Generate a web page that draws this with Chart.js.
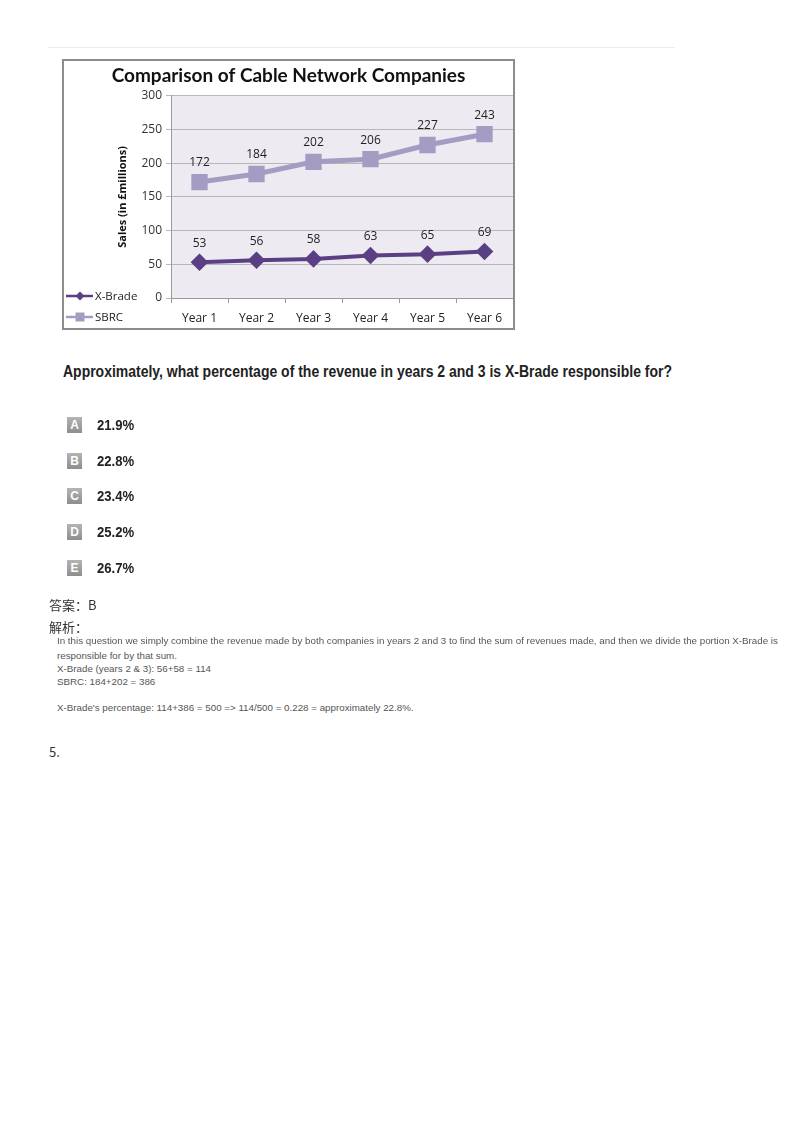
<!DOCTYPE html>
<html>
<head>
<meta charset="utf-8">
<script src="https://cdn.jsdelivr.net/npm/chart.js@4"></script>
<style>
  html,body{margin:0;padding:0;background:#fff;}
  body{width:800px;height:1132px;position:relative;overflow:hidden;}
  .abs{position:absolute;white-space:nowrap;}
  #topline{left:48px;top:47px;width:627px;height:1px;background:#ececec;}
  #frame{left:62px;top:59px;width:449px;height:267px;border:2px solid #8c8c8c;background:#fff;}
  #frame canvas{display:block;}
  .leg{font-family:"Open Sans",sans-serif;font-size:11.5px;color:#222;}
  .q{font-family:"Liberation Sans",Arial,sans-serif;font-weight:bold;color:#222;transform:scaleX(0.874);transform-origin:0 50%;}
  .box{width:15px;height:16px;background:linear-gradient(#b4b4b4,#8e8e8e);color:#fff;font-family:"Liberation Sans",Arial,sans-serif;font-weight:bold;font-size:12px;line-height:16px;text-align:center;}
  .cn{font-family:"Noto Sans CJK SC",sans-serif;font-size:13px;color:#333;}
  .ex{font-family:"Liberation Sans",Arial,sans-serif;font-size:9.77px;color:#555;line-height:13px;}
</style>
</head>
<body>
<div id="topline" class="abs"></div>
<div id="frame" class="abs"><canvas id="c" width="449" height="267"></canvas></div>

<div class="abs leg" style="left:66px;top:287px;width:80px;height:18px;">
  <svg width="28" height="18" style="position:absolute;left:0;top:0">
    <line x1="0" y1="9" x2="27" y2="9" stroke="#5b3f85" stroke-width="2.5"/>
    <polygon points="14,4.5 18.5,9 14,13.5 9.5,9" fill="#5b3f85"/>
  </svg>
  <span style="position:absolute;left:29px;top:0;line-height:18px;">X-Brade</span>
</div>
<div class="abs leg" style="left:66px;top:308px;width:80px;height:18px;">
  <svg width="28" height="18" style="position:absolute;left:0;top:0">
    <line x1="0" y1="9" x2="27" y2="9" stroke="#a59bc3" stroke-width="2.5"/>
    <rect x="9.5" y="4.5" width="9" height="9" fill="#a59bc3"/>
  </svg>
  <span style="position:absolute;left:29px;top:0;line-height:18px;">SBRC</span>
</div>

<div class="abs q" style="left:63px;top:362px;font-size:16px;line-height:20px;">Approximately, what percentage of the revenue in years 2 and 3 is X-Brade responsible for?</div>

<div id="opts"></div>

<div class="abs cn" style="left:49px;top:595px;line-height:20px;">答案：B</div>
<div class="abs cn" style="left:49px;top:617px;line-height:20px;">解析：</div>
<div class="abs ex" style="left:57px;top:634px;">In this question we simply combine the revenue made by both companies in years 2 and 3 to find the sum of revenues made, and then we divide the portion X-Brade is</div>
<div class="abs ex" style="left:57px;top:649px;">responsible for by that sum.</div>
<div class="abs ex" style="left:57px;top:662px;">X-Brade (years 2 &amp; 3): 56+58 = 114</div>
<div class="abs ex" style="left:57px;top:675px;">SBRC: 184+202 = 386</div>
<div class="abs ex" style="left:57px;top:701px;">X-Brade's percentage: 114+386 = 500 =&gt; 114/500 = 0.228 = approximately 22.8%.</div>
<div class="abs cn" style="left:49px;top:742px;line-height:20px;">5.</div>

<script>
const categories = ["Year 1","Year 2","Year 3","Year 4","Year 5","Year 6"];
const xbrade = [53, 56, 58, 63, 65, 69];
const sbrc = [172, 184, 202, 206, 227, 243];
const yTicks = [0, 50, 100, 150, 200, 250, 300];
const optionLetters = ["A","B","C","D","E"];
const optionValues = ["21.9%","22.8%","23.4%","25.2%","26.7%"];

// options list
const optTops = [417, 453, 488, 524, 560];
const optsEl = document.getElementById('opts');
optionLetters.forEach((l,i)=>{
  const b = document.createElement('div');
  b.className='abs box'; b.style.left='67px'; b.style.top=optTops[i]+'px'; b.textContent=l;
  optsEl.appendChild(b);
  const t = document.createElement('div');
  t.className='abs q'; t.style.left='97px'; t.style.top=(optTops[i]-2)+'px';
  t.style.fontSize='15px'; t.style.lineHeight='20px'; t.textContent=optionValues[i];
  optsEl.appendChild(t);
});

const bgPlugin = {
  id:'bg',
  beforeDraw(chart){
    const {ctx, chartArea:a} = chart;
    ctx.save(); ctx.fillStyle='#edebf1';
    ctx.fillRect(a.left, a.top, a.right-a.left, a.bottom-a.top);
    ctx.restore();
  }
};
const labelPlugin = {
  id:'vals',
  afterDatasetsDraw(chart){
    const ctx = chart.ctx;
    ctx.save();
    ctx.font = '12px "Open Sans", sans-serif';
    ctx.fillStyle = '#222';
    ctx.textAlign='center'; ctx.textBaseline='middle';
    chart.data.datasets.forEach((ds,di)=>{
      const meta = chart.getDatasetMeta(di);
      meta.data.forEach((pt,i)=>{
        ctx.fillText(String(ds.data[i]), pt.x, pt.y-19);
      });
    });
    ctx.restore();
  }
};

new Chart(document.getElementById('c'), {
  type:'line',
  data:{
    labels: categories,
    datasets:[
      {label:'X-Brade', data:xbrade, borderColor:'#5b3f85', backgroundColor:'#5b3f85',
       borderWidth:4, pointStyle:'rectRot', pointRadius:6, pointHoverRadius:6, clip:false},
      {label:'SBRC', data:sbrc, borderColor:'#a59bc3', backgroundColor:'#a59bc3',
       borderWidth:5, pointStyle:'rect', pointRadius:8, pointHoverRadius:8, clip:false}
    ]
  },
  options:{
    responsive:false, animation:false, devicePixelRatio:1,
    layout:{autoPadding:false, padding:{left:0,right:0,top:0,bottom:0}},
    plugins:{
      legend:{display:false}, tooltip:{enabled:false},
      title:{display:true, text:'Comparison of Cable Network Companies',
        font:{family:'Lato', size:19, weight:'bold'}, color:'#111',
        padding:{top:3,bottom:9}}
    },
    scales:{
      x:{
        offset:true,
        grid:{display:true, drawOnChartArea:false, drawTicks:true, tickLength:5, color:'#999', offset:true},
        border:{display:true, color:'#999'},
        ticks:{font:{family:'"Open Sans", sans-serif', size:12}, color:'#222', padding:8},
        afterFit(s){ s.height = 30; s.paddingLeft = 0; s.paddingRight = 0; }
      },
      y:{
        min:0, max:300,
        afterBuildTicks(s){ s.ticks = yTicks.map(v=>({value:v})); },
        grid:{color:'#b8b8b8', tickLength:5, lineWidth:1},
        border:{display:true, color:'#999'},
        ticks:{font:{family:'"Open Sans", sans-serif', size:12}, color:'#333', padding:4},
        title:{display:true, text:'Sales (in £millions)', font:{family:'"Open Sans", sans-serif', size:11, weight:'bold'}, color:'#111', padding:{top:52,bottom:0}},
        afterFit(s){ s.width = 107; }
      }
    }
  },
  plugins:[bgPlugin, labelPlugin]
});
</script>
</body>
</html>
